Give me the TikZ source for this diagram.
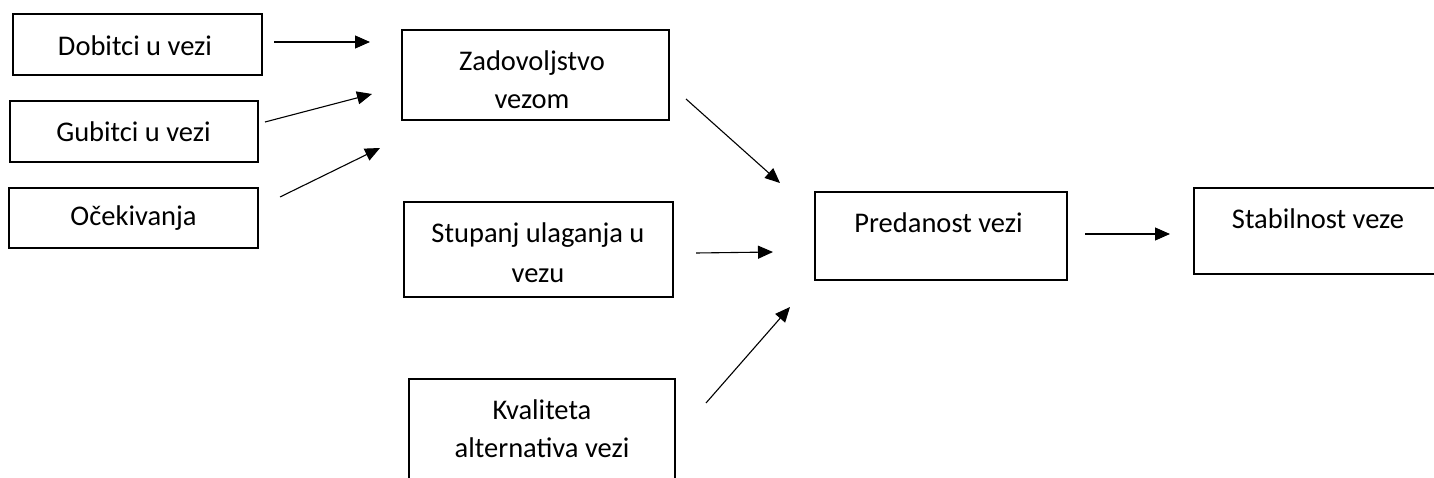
\documentclass[tikz,border=0pt]{standalone}
\usepackage{fontspec}
\setmainfont{Carlito}
\usetikzlibrary{arrows.meta}
\tikzset{
  box/.style={draw=black, line width=2pt, inner sep=0pt, rectangle},
  txt/.style={inner sep=0pt, align=center, font=\fontsize{28.5pt}{38.5pt}\selectfont, anchor=base},
  conn/.style={draw=black, line width=1.1pt, -{Triangle[length=15pt,width=13pt]}}
}
\begin{document}
\begin{tikzpicture}[x=1pt,y=-1pt]
\useasboundingbox (0,0) rectangle (1434,478);
\clip (0,0) rectangle (1434,478);
% boxes
\node[box, minimum width=249pt, minimum height=61pt] (dob) at (137.5,44.5) {};
\node[box, minimum width=248pt, minimum height=61pt] (gub) at (134,131.5) {};
\node[box, minimum width=249pt, minimum height=60pt] (oce) at (133.5,218) {};
\node[box, minimum width=267pt, minimum height=90pt] (zad) at (535.5,75) {};
\node[box, minimum width=269pt, minimum height=95pt] (stu) at (538.5,249.5) {};
\node[box, minimum width=266pt, minimum height=111pt] (kva) at (542,434.5) {};
\node[box, minimum width=252pt, minimum height=87pt] (pre) at (941,236) {};
\node[box, minimum width=246pt, minimum height=86pt] (sta) at (1317,231) {};
% texts
\node[txt] (dobT) at (135,56) {Dobitci u vezi};
\node[txt] (gubT) at (133.5,141.5) {Gubitci u vezi};
\node[txt] (oceT) at (133.5,226) {Očekivanja};
\node[txt] (zadT) at (532,71) {Zadovoljstvo};
\node[txt] (zadT2) at (532,109) {vezom};
\node[txt] (stuT) at (538,243) {Stupanj ulaganja u};
\node[txt] (stuT2) at (538,282) {vezu};
\node[txt] (kvaT) at (542,419) {Kvaliteta};
\node[txt] (kvaT2) at (542,457) {alternativa vezi};
\node[txt] (preT) at (938.5,233) {Predanost vezi};
\node[txt] (staT) at (1318,229) {Stabilnost veze};
% connector end points
\coordinate (a1) at (274,42);  \coordinate (b1) at (370,42);
\coordinate (a2) at (265,122); \coordinate (b2) at (372,94);
\coordinate (a3) at (280,197); \coordinate (b3) at (380,148);
\coordinate (a4) at (686,99);  \coordinate (b4) at (780,183);
\coordinate (a5) at (696,253); \coordinate (b5) at (773,252);
\coordinate (a6) at (706,403); \coordinate (b6) at (790,307);
\coordinate (a7) at (1085,234); \coordinate (b7) at (1170,234);
\foreach \i in {1,...,7} {\draw[conn] (a\i) -- (b\i);}
\end{tikzpicture}
\end{document}
